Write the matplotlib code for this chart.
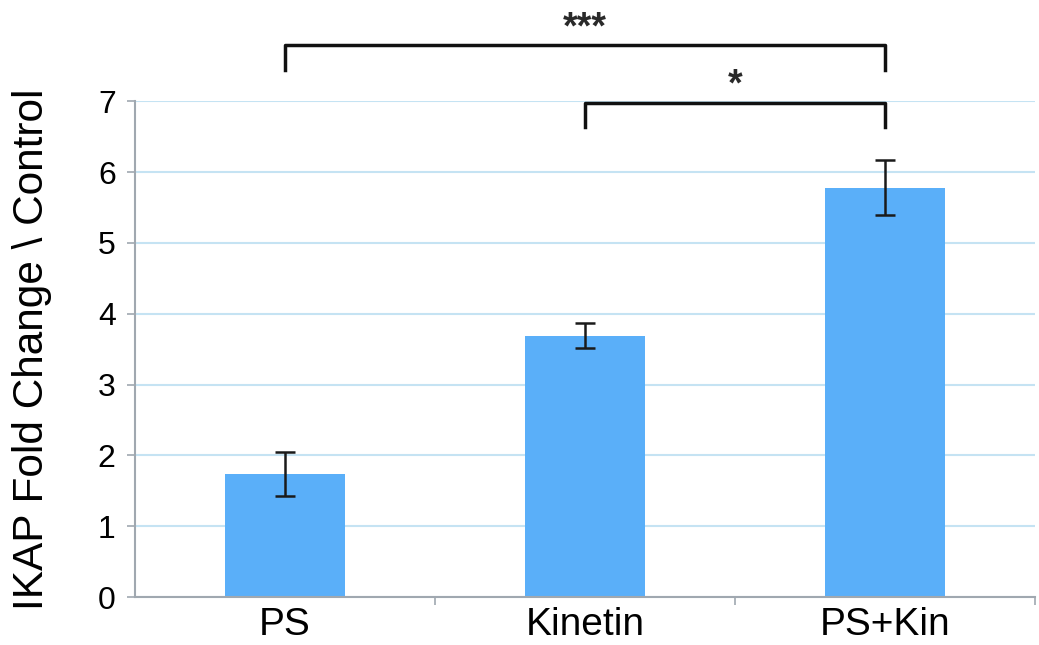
import matplotlib
matplotlib.use("Agg")
import matplotlib.pyplot as plt
import numpy as np

plt.rcParams['font.family'] = ['Liberation Sans', 'DejaVu Sans']

# data
groups = ['PS', 'Kinetin', 'PS+Kin']
fold_change = [1.74, 3.69, 5.78]
err = [0.31, 0.18, 0.39]
# significance brackets: (left group, right group, label, height)
brackets = [(0, 2, '***', 7.79), (1, 2, '*', 6.98)]

fig = plt.figure(figsize=(10.39, 6.45), dpi=100)
ax = fig.add_axes([0.130, 0.0744, 0.866, 0.7686])

x = np.arange(len(groups))
ax.yaxis.grid(True, color='#c5e3f3', linewidth=1.5, zorder=0)
ax.set_axisbelow(True)
ax.bar(x, fold_change, width=0.4, color='#5aaff9', zorder=2)
ax.errorbar(x, fold_change, yerr=err, fmt='none', ecolor='#1a1a1a',
            elinewidth=1.8, capsize=7, capthick=1.8, zorder=3)

ax.set_xlim(-0.5, 2.5)
ax.set_ylim(0, 7)
ax.set_yticks(range(0, 8))
ax.set_xticks(x)
ax.set_xticklabels(groups, fontsize=28)
ax.set_xticks([0.5, 1.5, 2.5], minor=True)
ax.tick_params(axis='x', which='major', length=0, pad=7)
ax.tick_params(axis='x', which='minor', length=6, color='#a0a8b0', width=1.2)
ax.tick_params(axis='y', labelsize=23, length=6, color='#a0a8b0', width=1.2, pad=8)
ax.set_ylabel('IKAP Fold Change \\ Control', fontsize=30.5)
ax.yaxis.set_label_coords(-0.092, 0.5)

for s in ['top', 'right']:
    ax.spines[s].set_visible(False)
for s in ['left', 'bottom']:
    ax.spines[s].set_color('#a0a8b0')
    ax.spines[s].set_linewidth(1.5)

for i, j, lab, h in brackets:
    drop = 0.35
    ax.plot([x[i], x[i], x[j], x[j]], [h - drop, h, h, h - drop],
            color='#111111', linewidth=2.5, clip_on=False, zorder=4)
    ax.text((x[i] + x[j]) / 2, h + 0.1, lab, ha='center', va='baseline',
            fontsize=27, fontweight='bold', color='#2a2a2a', clip_on=False)

fig.savefig('out.png', dpi=100)
